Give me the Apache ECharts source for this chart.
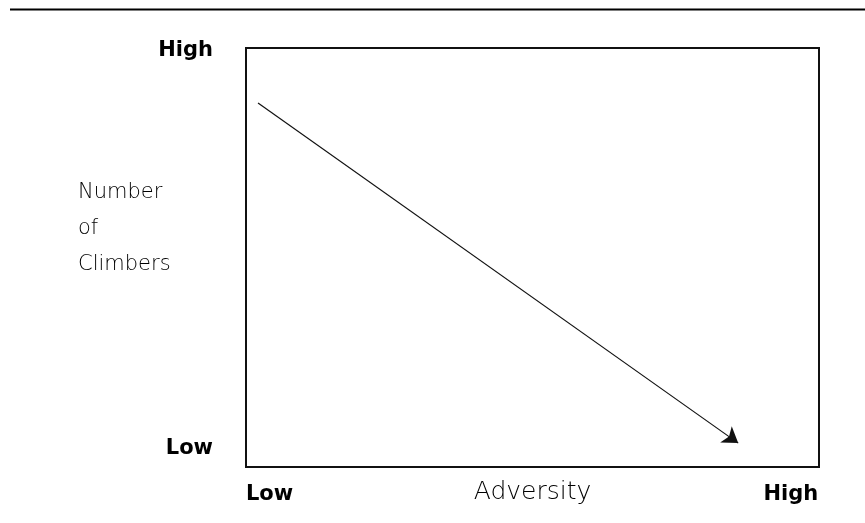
<!DOCTYPE html>
<html>
<head>
<meta charset="utf-8">
<script src="https://cdn.jsdelivr.net/npm/echarts@6/dist/echarts.min.js"></script>
<style>
html,body{margin:0;padding:0;background:#fff;}
#chart{width:865px;height:523px;}
</style>
</head>
<body>
<div id="chart"></div>
<script>
// Data (axis values on a 0-100 scale, qualitative)
const xTickValues = [4.1, 95.1];
const xTickLabels = ['Low', 'High'];
const yTickValues = [4.5, 99.5];
const yTickLabels = ['Low', 'High'];
const trendX = [2.1, 85.9];
const trendY = [86.9, 5.7];
const xAxisTitle = 'Adversity';
const yAxisTitle = 'Number\nof\nClimbers';

const chart = echarts.init(document.getElementById('chart'), null, {renderer: 'canvas'});

const option = {
  animation: false,
  backgroundColor: '#ffffff',
  title: {
    text: yAxisTitle,
    left: 78,
    top: 175,
    padding: 0,
    textStyle: {
      fontFamily: 'DejaVu Sans',
      fontWeight: 200,
      fontSize: 21,
      lineHeight: 36,
      color: '#000'
    }
  },
  graphic: [{
    type: 'line',
    shape: {x1: 10, y1: 9.5, x2: 865, y2: 9.5},
    style: {stroke: '#000', lineWidth: 2}
  }],
  grid: {
    show: true,
    left: 246,
    right: 46,
    top: 48,
    bottom: 56,
    outerBoundsMode: 'none',
    borderColor: '#111',
    borderWidth: 2,
    backgroundColor: 'transparent',
    containLabel: false
  },
  xAxis: {
    type: 'value',
    min: 0,
    max: 100,
    name: xAxisTitle,
    nameLocation: 'middle',
    nameGap: 13,
    nameMoveOverlap: false,
    nameTextStyle: {
      fontFamily: 'DejaVu Sans',
      fontWeight: 200,
      fontSize: 25,
      color: '#000',
      verticalAlign: 'top'
    },
    axisLine: {show: false},
    axisTick: {show: false},
    splitLine: {show: false},
    axisLabel: {
      customValues: xTickValues,
      formatter: function (v) {
        const i = xTickValues.indexOf(v);
        return i >= 0 ? xTickLabels[i] : '';
      },
      margin: 17,
      fontFamily: 'DejaVu Sans',
      fontWeight: 'bold',
      fontSize: 21,
      color: '#000'
    }
  },
  yAxis: {
    type: 'value',
    min: 0,
    max: 100,
    axisLine: {show: false},
    axisTick: {show: false},
    splitLine: {show: false},
    axisLabel: {
      customValues: yTickValues,
      formatter: function (v) {
        const i = yTickValues.indexOf(v);
        return i >= 0 ? yTickLabels[i] : '';
      },
      margin: 33,
      fontFamily: 'DejaVu Sans',
      fontWeight: 'bold',
      fontSize: 21,
      color: '#000'
    }
  },
  series: [{
    type: 'lines',
    coordinateSystem: 'cartesian2d',
    silent: true,
    symbol: ['none', 'arrow'],
    symbolSize: 15,
    lineStyle: {color: '#111', width: 1.2, opacity: 1, curveness: 0},
    data: [{
      coords: [[trendX[0], trendY[0]], [trendX[1], trendY[1]]]
    }]
  }]
};

chart.setOption(option);
</script>
</body>
</html>
